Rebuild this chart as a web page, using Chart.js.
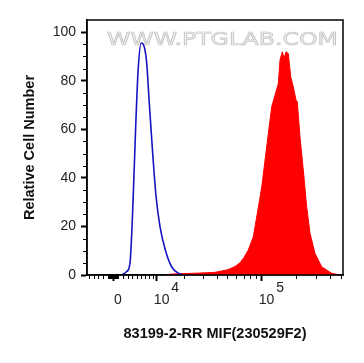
<!DOCTYPE html>
<html>
<head>
<meta charset="utf-8">
<script src="https://cdn.jsdelivr.net/npm/chart.js@4"></script>
<style>
  body { margin: 0; background: #fff; }
  canvas { display: block; }
</style>
</head>
<body>
<canvas id="histChart" width="364" height="363"></canvas>
<script>
// control (blue line): fluorescence intensity and relative count
var blueIntensity = [1800, 2800, 3500, 4000, 4400, 4800, 5300, 6000, 6750, 7350, 8000, 8900, 9850, 11000, 12650, 14850, 18000, 19300];
var blueCount = [0, 1.4, 4.9, 22.6, 43, 63.8, 84.4, 95.5, 93.9, 87.2, 70.8, 50.2, 32.1, 19.8, 10.3, 3.3, 0.4, 0];

// stained sample (red fill)
var redIntensity = [12650, 14950, 20250, 28100, 38600, 50500, 58300, 64600, 70100, 76600, 84800, 92000, 100700, 107600, 115000, 123200, 131800, 140800, 145700, 152600, 158000, 164500, 172300, 180900, 190700, 201400, 206700, 218300, 233400, 250000, 267200, 295700, 338500, 414300, 489900];
var redCount = [0, 0.4, 0.6, 0.8, 1.1, 2.2, 3.5, 5, 7.2, 10.3, 15.8, 25.4, 36.3, 47.3, 58.3, 69.3, 74.1, 78.9, 88.5, 91.9, 89.2, 91.9, 91.2, 81.6, 77.5, 72, 71.3, 56.9, 43.2, 28.1, 17.2, 8.9, 3.4, 0.7, 0];

// axes
var xMajor = [0, 10000, 100000];
var xLabels = [['', '0'], ['       4', '10'], ['       5', '10']];
var xMinor = [-5000, -4000, -3000, -2000, -1000, -900, -800, -700, -600, -500, -400, -300, -200, -100,
  100, 200, 300, 400, 500, 600, 700, 800, 900, 1000, 2000, 3000, 4000, 5000, 6000, 7000, 8000, 9000,
  20000, 30000, 40000, 50000, 60000, 70000, 80000, 90000, 200000, 300000, 400000, 500000];
var yMajor = [0, 20, 40, 60, 80, 100];
var yMinor = [5, 10, 15, 25, 30, 35, 45, 50, 55, 65, 70, 75, 85, 90, 95];

var xTitle = '83199-2-RR MIF(230529F2)';
var yTitle = 'Relative Cell Number';
var watermark = 'WWW.PTGLAB.COM';

// biexponential-like display transform
function T(v) {
    return Math.asinh(v / 10000) / Math.LN10;
}

function points(xs, ys) {
    return xs.map(function (v, i) { return { x: T(v), y: ys[i] }; });
}

var fontFamily = 'Arial, "Liberation Sans", sans-serif';

var framePlugin = {
    id: 'frame',
    beforeDatasetsDraw: function (chart) {
        var ctx = chart.ctx;
        ctx.save();
        ctx.font = '18px "DejaVu Sans"';
        var w = ctx.measureText(watermark).width;
        ctx.translate(107, 45);
        ctx.scale(231 / w, 1);
        ctx.textBaseline = 'alphabetic';
        ctx.fillStyle = '#eeeeee';
        ctx.strokeStyle = '#c4c4c4';
        ctx.lineWidth = 0.7;
        ctx.fillText(watermark, 0, 0);
        ctx.strokeText(watermark, 0, 0);
        ctx.restore();
    },
    afterDraw: function (chart) {
        var ctx = chart.ctx, a = chart.chartArea;
        var x = chart.scales.x, y = chart.scales.y;
        ctx.save();
        ctx.strokeStyle = '#000';
        ctx.lineWidth = 1;
        ctx.beginPath();
        yMinor.forEach(function (v) {
            var py = Math.round(y.getPixelForValue(v)) + 0.5;
            ctx.moveTo(a.left - 4, py);
            ctx.lineTo(a.left, py);
        });
        xMinor.forEach(function (v) {
            var px = Math.round(x.getPixelForValue(T(v))) + 0.5;
            ctx.moveTo(px, a.bottom);
            ctx.lineTo(px, a.bottom + 4);
        });
        ctx.stroke();
        ctx.lineWidth = 1.5;
        ctx.strokeRect(a.left, a.top, a.right - a.left, a.bottom - a.top);
        ctx.restore();
    }
};

var ctx = document.getElementById('histChart').getContext('2d');
var histChart = new Chart(ctx, {
    type: 'line',
    data: {
        datasets: [
        {
            label: 'Control',
            data: points(blueIntensity, blueCount),
            borderColor: '#1414c0',
            borderWidth: 1.6,
            fill: false,
            cubicInterpolationMode: 'monotone',
            pointRadius: 0,
            order: 0
        },
        {
            label: 'MIF',
            data: points(redIntensity, redCount),
            borderColor: '#ff0000',
            backgroundColor: '#ff0000',
            borderWidth: 1,
            fill: 'origin',
            tension: 0,
            pointRadius: 0,
            order: 1
        }
        ]
    },
    plugins: [framePlugin],
    options: {
        responsive: false,
        devicePixelRatio: 1,
        animation: false,
        layout: { padding: { top: 20, right: 21, left: 0, bottom: 0 } },
        plugins: {
            legend: { display: false },
            tooltip: { enabled: false }
        },
        scales: {
            x: {
                type: 'linear',
                min: -26 / 114,
                max: 230 / 114,
                afterBuildTicks: function (scale) {
                    scale.ticks = xMajor.map(function (v) { return { value: T(v) }; });
                },
                afterFit: function (scale) { scale.height = 88; },
                grid: { drawOnChartArea: false, drawTicks: true, tickLength: 6, tickWidth: 2, tickColor: '#000' },
                border: { color: '#000', width: 1.5 },
                ticks: {
                    autoSkip: false,
                    maxRotation: 0,
                    padding: 2,
                    labelOffset: 5,
                    color: '#222',
                    font: { family: fontFamily, size: 14, lineHeight: 0.8 },
                    callback: function (v, i) { return xLabels[i]; }
                },
                title: {
                    display: true,
                    text: xTitle,
                    color: '#111',
                    font: { family: fontFamily, size: 14.5, weight: 'bold' },
                    padding: { top: 0, bottom: 20 }
                }
            },
            y: {
                min: 0,
                max: 105,
                afterBuildTicks: function (scale) {
                    scale.ticks = yMajor.map(function (v) { return { value: v }; });
                },
                afterFit: function (scale) { scale.width = 87; },
                grid: { drawOnChartArea: false, drawTicks: true, tickLength: 6, tickWidth: 2, tickColor: '#000' },
                border: { color: '#000', width: 1.5 },
                ticks: {
                    padding: 5,
                    color: '#222',
                    font: { family: fontFamily, size: 14 }
                },
                title: {
                    display: true,
                    text: yTitle,
                    color: '#111',
                    font: { family: fontFamily, size: 14.5, weight: 'bold' },
                    padding: { top: 21, bottom: 0 }
                }
            }
        }
    }
});
</script>
</body>
</html>
